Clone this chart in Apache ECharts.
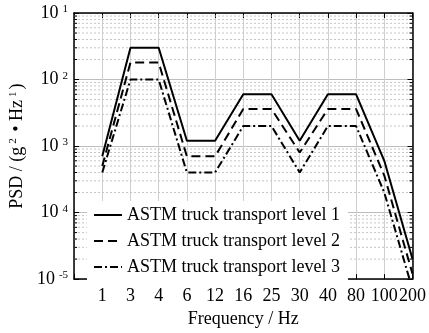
<!DOCTYPE html>
<html>
<head>
<meta charset="utf-8">
<script src="https://cdn.jsdelivr.net/npm/echarts@6/dist/echarts.min.js"></script>
<style>
  html, body { margin: 0; padding: 0; background: #fff; }
  #chart { width: 429px; height: 333px; }
</style>
</head>
<body>
<div id="chart"></div>
<script>
// frequency categories (Hz), evenly spaced on the axis
var freqs = ['1', '3', '4', '6', '12', '16', '25', '30', '40', '80', '100', '200'];
// PSD values g^2/Hz
var level1 = [7e-4, 0.03, 0.03, 0.0012, 0.0012, 0.006, 0.006, 0.0012, 0.006, 0.006, 6e-4, 2e-5];
var level2 = [5e-4, 0.018, 0.018, 7e-4, 7e-4, 0.0036, 0.0036, 8e-4, 0.0036, 0.0036, 3.6e-4, 1.2e-5];
var level3 = [4e-4, 0.01, 0.01, 4e-4, 4e-4, 0.002, 0.002, 4e-4, 0.002, 0.002, 2e-4, 0.7e-5];
var seriesNames = ['ASTM truck transport level 1', 'ASTM truck transport level 2', 'ASTM truck transport level 3'];
// y tick exponents as printed in the figure (bottom to top)
var yExps = ['-5', '4', '3', '2', '1'];

var font = '"Liberation Serif", "Times New Roman", serif';

function pairs(vals) {
  return vals.map(function (v, i) { return [i, v]; });
}

// minor log grid positions 2..9 x 10^k
var minorVals = [];
for (var k = -5; k < -1; k++) {
  for (var m = 2; m <= 9; m++) {
    minorVals.push([0, m * Math.pow(10, k)]);
  }
}

var myChart = echarts.init(document.getElementById('chart'));

var xBase = {
  type: 'value',
  min: -1,
  max: 11,
  interval: 1,
  axisLine: { show: true, onZero: false, lineStyle: { color: '#000', width: 1.5 } },
  axisTick: { show: true, inside: true, length: 5, lineStyle: { color: '#000' } },
  splitLine: { show: false }
};
var yBase = {
  type: 'log',
  logBase: 10,
  min: 1e-5,
  max: 1e-1,
  axisLine: { show: true, onZero: false, lineStyle: { color: '#000', width: 1.5 } },
  axisTick: { show: true, inside: true, length: 5, lineStyle: { color: '#000' } },
  splitLine: { show: false }
};

var option = {
  animation: false,
  backgroundColor: '#fff',
  textStyle: { fontFamily: font },
  grid: { left: 73, right: 16, top: 13, bottom: 46 },
  legend: {
    orient: 'vertical',
    left: 87,
    top: 201,
    padding: [4, 8, 4, 6],
    backgroundColor: '#fff',
    itemWidth: 28,
    itemHeight: 14,
    itemGap: 6,
    data: seriesNames,
    itemStyle: { opacity: 0 },
    textStyle: { fontFamily: font, fontSize: 18, color: '#000', lineHeight: 20 }
  },
  xAxis: [
    Object.assign({}, xBase, {
      position: 'bottom',
      name: 'Frequency / Hz',
      nameLocation: 'middle',
      nameGap: 27,
      nameTextStyle: { fontFamily: font, fontSize: 18, color: '#000' },
      axisLabel: {
        margin: 8,
        fontFamily: font,
        fontSize: 18,
        color: '#000',
        formatter: function (v) { return v >= 0 && v < freqs.length ? freqs[v] : ''; }
      },
      splitLine: { show: true, lineStyle: { color: '#cfcfcf', width: 1 } }
    }),
    Object.assign({}, xBase, { position: 'top', axisLabel: { show: false } })
  ],
  yAxis: [
    Object.assign({}, yBase, {
      position: 'left',
      name: 'PSD / (g{s|2} • Hz{s|1})',
      nameLocation: 'middle',
      nameGap: 46,
      nameRotate: 90,
      nameTextStyle: {
        fontFamily: font, fontSize: 18, color: '#000',
        rich: { s: { fontFamily: font, fontSize: 11, verticalAlign: 'top', lineHeight: 12, padding: [0, 2, 0, 3] } }
      },
      axisLabel: {
        margin: 6,
        formatter: function (v) {
          var i = Math.round(Math.log10(v)) + 5;
          return '{b|10}{e|' + yExps[i] + '}';
        },
        rich: {
          b: { fontFamily: font, fontSize: 18, color: '#000', lineHeight: 18 },
          e: { fontFamily: font, fontSize: 11, color: '#000', verticalAlign: 'top', lineHeight: 11, padding: [0, 0, 0, 4] }
        }
      },
      splitLine: { show: true, lineStyle: { color: '#bdbdbd', width: 1 } }
    }),
    Object.assign({}, yBase, { position: 'right', axisLabel: { show: false } })
  ],
  series: [
    {
      type: 'custom',
      name: 'minorGrid',
      silent: true,
      z: 1,
      data: minorVals,
      renderItem: function (params, api) {
        var v = api.value(1);
        var a = api.coord([-1, v]);
        var b = api.coord([11, v]);
        return {
          type: 'group',
          children: [
            { type: 'line', shape: { x1: a[0], y1: a[1], x2: b[0], y2: b[1] },
              style: { stroke: '#c4c4c4', lineWidth: 1, lineDash: [2, 2] } },
            { type: 'line', shape: { x1: a[0], y1: a[1], x2: a[0] + 3, y2: a[1] },
              style: { stroke: '#000', lineWidth: 1 } },
            { type: 'line', shape: { x1: b[0], y1: b[1], x2: b[0] - 3, y2: b[1] },
              style: { stroke: '#000', lineWidth: 1 } }
          ]
        };
      }
    },
    {
      type: 'line', name: seriesNames[0], data: pairs(level1), symbol: 'none', z: 3,
      lineStyle: { color: '#000', width: 2, type: 'solid' }, itemStyle: { color: '#000' }
    },
    {
      type: 'line', name: seriesNames[1], data: pairs(level2), symbol: 'none', z: 3,
      lineStyle: { color: '#000', width: 2, type: [9, 5] }, itemStyle: { color: '#000' }
    },
    {
      type: 'line', name: seriesNames[2], data: pairs(level3), symbol: 'none', z: 3,
      lineStyle: { color: '#000', width: 2, type: [8, 3, 2, 3] }, itemStyle: { color: '#000' }
    }
  ]
};

myChart.setOption(option);
</script>
</body>
</html>
